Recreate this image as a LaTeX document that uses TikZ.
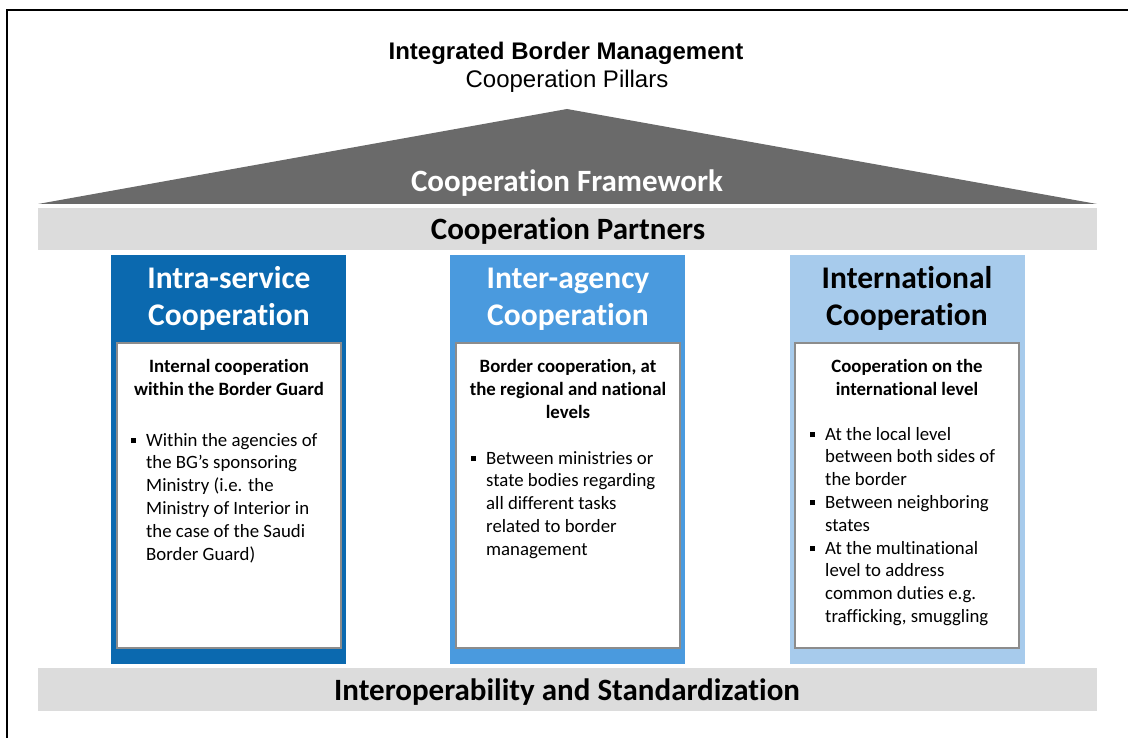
\documentclass[tikz,border=0pt]{standalone}
\usepackage{fontspec}
\setmainfont{Carlito}[Ligatures=NoCommon]
\newfontfamily\titlefont{Liberation Sans}
\definecolor{pillarA}{HTML}{0B69AF}
\definecolor{pillarB}{HTML}{4A9ADE}
\definecolor{pillarC}{HTML}{A7CBEC}
\definecolor{roofgray}{HTML}{6A6A6A}
\definecolor{bargray}{HTML}{DCDCDC}
\definecolor{boxgray}{HTML}{8C8C8C}
\newcommand{\bul}{\rule[3pt]{5pt}{5pt}}

\begin{document}
\begin{tikzpicture}[x=1pt,y=-1pt,
    head/.style={font=\fontsize{31.5}{37}\selectfont\bfseries,anchor=base,inner sep=0pt},
    sub/.style={font=\fontsize{18.8}{23}\selectfont\bfseries,anchor=base,inner sep=0pt},
    body/.style={font=\fontsize{18.8}{22.8}\selectfont,anchor=base west,inner sep=0pt},
    barlabel/.style={font=\fontsize{31}{33}\selectfont\bfseries,anchor=base,inner sep=0pt},
    inbox/.style={fill=white,draw=boxgray,line width=2.5pt}]
      \useasboundingbox (0,0) rectangle (1128,738) ;
      \draw[line width=1.5pt] (7,738) -- (7,10) -- (1128,10) ;
      % title
      \node[font=\titlefont\fontsize{24}{28}\selectfont\bfseries,anchor=base] (T1) at (566,60) {Integrated Border Management} ;
      \node[font=\titlefont\fontsize{24}{28}\selectfont,anchor=base] (T2) at (567,88) {Cooperation Pillars} ;
      % roof and bars
      \fill[roofgray] (38,204) -- (567,109) -- (1097,204) -- cycle ;
      \node[barlabel,text=white] (FW) at (567,192) {Cooperation Framework} ;
      \fill[bargray] (38,208) rectangle (1097,250) ;
      \node[barlabel] (CP) at (568,240) {Cooperation Partners} ;
      \fill[bargray] (38,668) rectangle (1097,711) ;
      \node[barlabel] (IS) at (567,700) {Interoperability and Standardization} ;
      % pillars
      \fill[pillarA] (111,255) rectangle (346,664) ;
      \fill[pillarB] (450,255) rectangle (685,664) ;
      \fill[pillarC] (790,255) rectangle (1025,664) ;
      \draw[inbox] (117,343) rectangle (341,648) ;
      \draw[inbox] (456,343) rectangle (680,648) ;
      \draw[inbox] (795,343) rectangle (1019,648) ;
      \node[head,text=white] (H1) at (229,289) {\begin{tabular}[t]{@{}c@{}}Intra-service\\Cooperation\end{tabular}} ;
      \node[head,text=white] (H2) at (568,289) {\begin{tabular}[t]{@{}c@{}}Inter-agency\\Cooperation\end{tabular}} ;
      \node[head] (H3) at (907,289) {\begin{tabular}[t]{@{}c@{}}International\\Cooperation\end{tabular}} ;
      % inner boxes
      \node[sub] (S1) at (229,372) {\begin{tabular}[t]{@{}c@{}}Internal cooperation\\within the Border Guard\end{tabular}} ;
      \node[sub] (S2) at (568,372) {\begin{tabular}[t]{@{}c@{}}Border cooperation, at\\the regional and national\\levels\end{tabular}} ;
      \node[sub] (S3) at (907,372) {\begin{tabular}[t]{@{}c@{}}Cooperation on the\\international level\end{tabular}} ;
      \node[body] (B1) at (131,446) {\begin{tabular}[t]{@{}l@{\hspace{10pt}}l@{}}
        \bul & Within the agencies of\\ & the BG’s sponsoring\\ & Ministry (i.e. the\\
        & Ministry of Interior in\\ & the case of the Saudi\\ & Border Guard)\end{tabular}} ;
      \node[body] (B2) at (471,464) {\begin{tabular}[t]{@{}l@{\hspace{10pt}}l@{}}
        \bul & Between ministries or\\ & state bodies regarding\\ & all different tasks\\
        & related to border\\ & management\end{tabular}} ;
      \node[body] (B3) at (810,440) {\begin{tabular}[t]{@{}l@{\hspace{10pt}}l@{}}
        \bul & At the local level\\ & between both sides of\\ & the border\\
        \bul & Between neighboring\\ & states\\
        \bul & At the multinational\\ & level to address\\ & common duties e.g.\\ & trafficking, smuggling\end{tabular}} ;
    \end{tikzpicture}
\end{document}
